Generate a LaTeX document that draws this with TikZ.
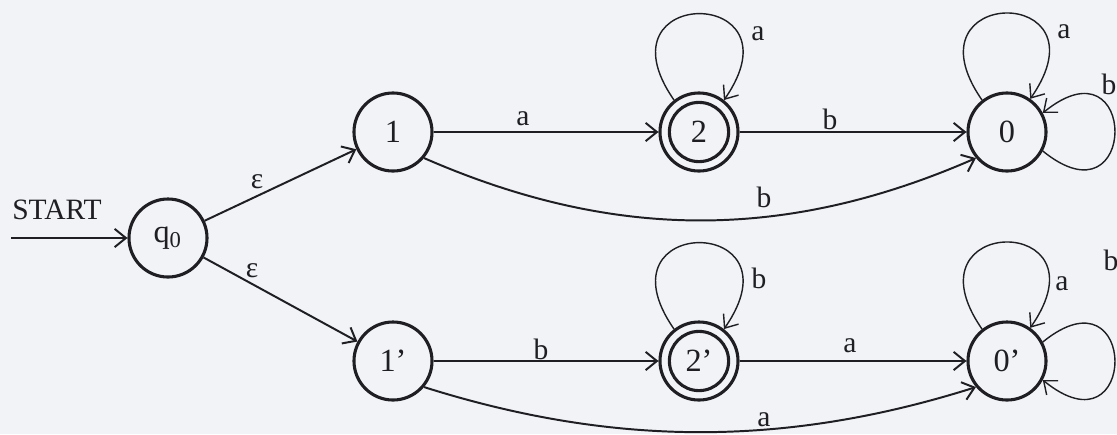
\documentclass[tikz,border=0pt]{standalone}
\usepackage{fontspec}
\setmainfont{Liberation Serif}
\usetikzlibrary{arrows.meta}
\definecolor{paper}{RGB}{241,243,246}
\definecolor{ink}{RGB}{30,30,35}
\tikzset{
  state/.style={circle, draw=ink, line width=1.1pt, minimum size=0.975cm, inner sep=0pt,
    text=ink, font=\rmfamily\fontsize{11.5}{13}\selectfont},
  final/.style={state, path picture={\draw[ink, line width=1.1pt]
    (path picture bounding box.center) circle (0.37cm);}},
  trans/.style={draw=ink, line width=0.7pt, -{Straight Barb[length=4pt,width=6.5pt]}},
  selfloop/.style={draw=ink, line width=0.5pt, -{Straight Barb[length=4pt,width=6.5pt]}},
  lbl/.style={text=ink, inner sep=0pt, font=\rmfamily\fontsize{10.5}{12}\selectfont},
}
\begin{document}
\begin{tikzpicture}[x=0.0125cm, y=-0.0125cm]
\path[fill=paper, use as bounding box] (0,0) rectangle (1117,434);
%states
\node[state] (q0) at (168,238) {q\textsubscript{0}};
\node[state] (n1) at (393,132) {1};
\node[final] (n2) at (699,132) {2};
\node[state] (n0) at (1007,132) {0};
\node[state] (m1) at (393,361) {1'};
\node[final] (m2) at (699,361) {2'};
\node[state] (m0) at (1007,361) {0'};
\coordinate (in) at (11,238);
\node[lbl] (start) at (57,210) {START};
%transitions
\draw[trans] (in) -- (q0);
\draw[trans] (q0) -- (n1);
\draw[trans] (q0) -- (m1);
\draw[trans] (n1) -- (n2);
\draw[trans] (n2) -- (n0);
\draw[trans] (m1) -- (m2);
\draw[trans] (m2) -- (m0);
\draw[trans] (n1.-40) .. controls +(190,83) and +(-190,83) .. (n0.-140);
\draw[trans] (m1.-40) .. controls +(190,60) and +(-190,60) .. (m0.-140);
%loops
\draw[selfloop] (n2.128) .. controls +(-80,-115) and +(80,-115) .. (n2.52);
\draw[selfloop] (n0.128) .. controls +(-80,-115) and +(80,-115) .. (n0.55);
\draw[selfloop] (m2.128) .. controls +(-80,-115) and +(80,-115) .. (m2.52);
\draw[selfloop] (m0.128) .. controls +(-80,-115) and +(80,-115) .. (m0.55);
\draw[selfloop] (n0.-28) .. controls +(96,78) and +(96,-78) .. (n0.28);
\draw[selfloop] (m0.28) .. controls +(96,-78) and +(96,78) .. (m0.-28);
%labels
\foreach \x/\y/\Sym [count=\i] in {257/182/ε, 252/271/ε,
    523/119/a, 830/119/b, 764/197/b, 758/34/a, 1064/32/a, 1109/84/b,
    541/349/b, 850/346/a, 759/278/b, 1062/284/a, 1111/260/b, 764/420/a}{
    \node[lbl] (lab\i) at (\x,\y) {\Sym};
};
\end{tikzpicture}
\end{document}
